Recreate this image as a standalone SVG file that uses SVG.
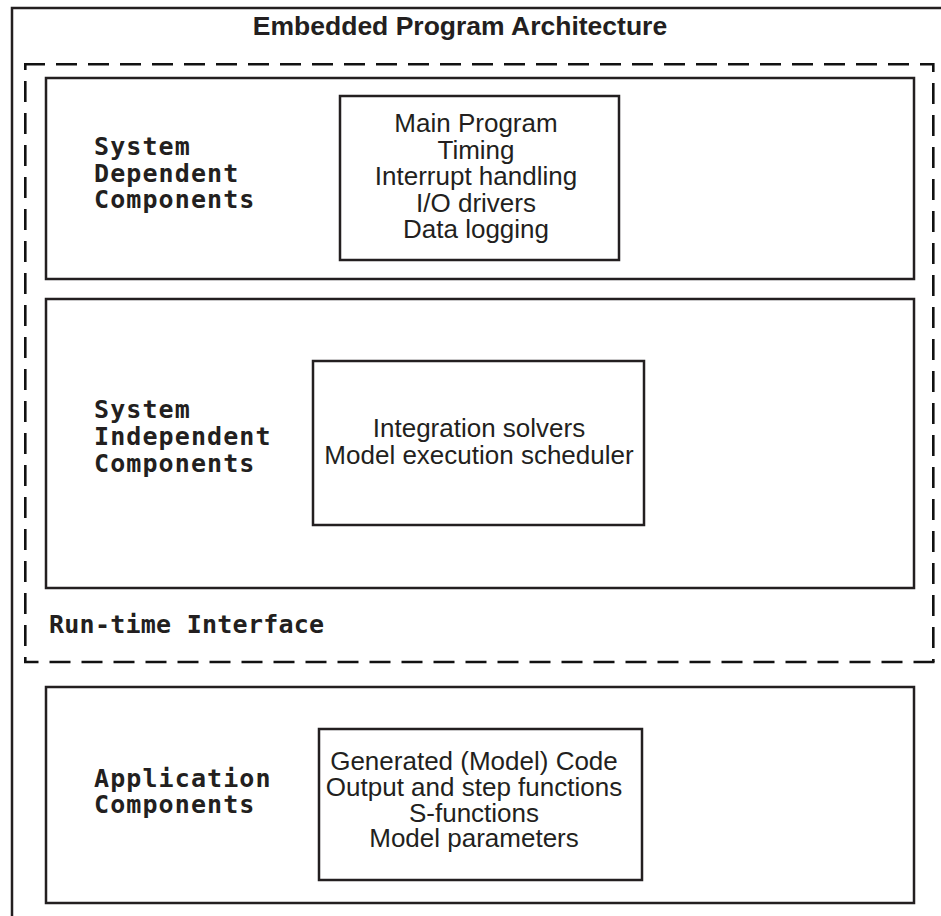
<svg xmlns="http://www.w3.org/2000/svg" width="941" height="916" viewBox="0 0 941 916">
<style>
.box{fill:none;stroke:#231f20;stroke-width:2.5}
.dash{fill:none;stroke:#111;stroke-width:2.6;stroke-dasharray:21 11}
.sans{font-family:"Liberation Sans",Arial,Helvetica,sans-serif;font-size:26px;fill:#231f20;text-anchor:middle}
.title{font-family:"Liberation Sans",Arial,Helvetica,sans-serif;font-size:26.5px;font-weight:bold;fill:#231f20;text-anchor:middle}
.mono{font-family:"DejaVu Sans Mono","Liberation Mono",monospace;font-size:25px;font-weight:bold;fill:#231f20;letter-spacing:1.1px}
</style>
<rect width="941" height="916" fill="#fff"/>
<g id="frame">
<rect class="box" x="12" y="8" width="960" height="940"/>
<text class="title" x="460" y="35">Embedded Program Architecture</text>
</g>
<g id="runtime-interface">
<line class="dash" x1="24" y1="64.3" x2="934" y2="64.3"/>
<line class="dash" x1="25.3" y1="64" x2="25.3" y2="662" style="stroke-dashoffset:15"/>
<line class="dash" x1="933.3" y1="63" x2="933.3" y2="662" style="stroke-dashoffset:12"/>
<line class="dash" x1="934.5" y1="662" x2="24" y2="662"/>
<text class="mono" x="49" y="633" style="letter-spacing:0.25px">Run-time Interface</text>
</g>
<g id="system-dependent">
<rect class="box" x="46" y="78" width="868" height="201"/>
<text class="mono" x="94" y="155">System</text>
<text class="mono" x="94" y="181.7">Dependent</text>
<text class="mono" x="94" y="208">Components</text>
</g>
<g id="system-dependent-items">
<rect class="box" x="340" y="96" width="279" height="164"/>
<text class="sans" x="476" y="132">Main Program</text>
<text class="sans" x="476" y="158.5">Timing</text>
<text class="sans" x="476" y="185">Interrupt handling</text>
<text class="sans" x="476" y="211.5">I/O drivers</text>
<text class="sans" x="476" y="238">Data logging</text>
</g>
<g id="system-independent">
<rect class="box" x="46" y="299" width="868" height="289"/>
<text class="mono" x="94" y="418">System</text>
<text class="mono" x="94" y="445">Independent</text>
<text class="mono" x="94" y="471.7">Components</text>
</g>
<g id="system-independent-items">
<rect class="box" x="313" y="361" width="331" height="164"/>
<text class="sans" x="479" y="437">Integration solvers</text>
<text class="sans" x="479" y="464">Model execution scheduler</text>
</g>
<g id="application">
<rect class="box" x="46" y="687" width="868" height="216"/>
<text class="mono" x="94" y="786.7">Application</text>
<text class="mono" x="94" y="813">Components</text>
</g>
<g id="application-items">
<rect class="box" x="319" y="729" width="323" height="151"/>
<text class="sans" x="474" y="770">Generated (Model) Code</text>
<text class="sans" x="474" y="796">Output and step functions</text>
<text class="sans" x="474" y="821.5">S-functions</text>
<text class="sans" x="474" y="847">Model parameters</text>
</g>
<g id="connectors"></g>
</svg>
